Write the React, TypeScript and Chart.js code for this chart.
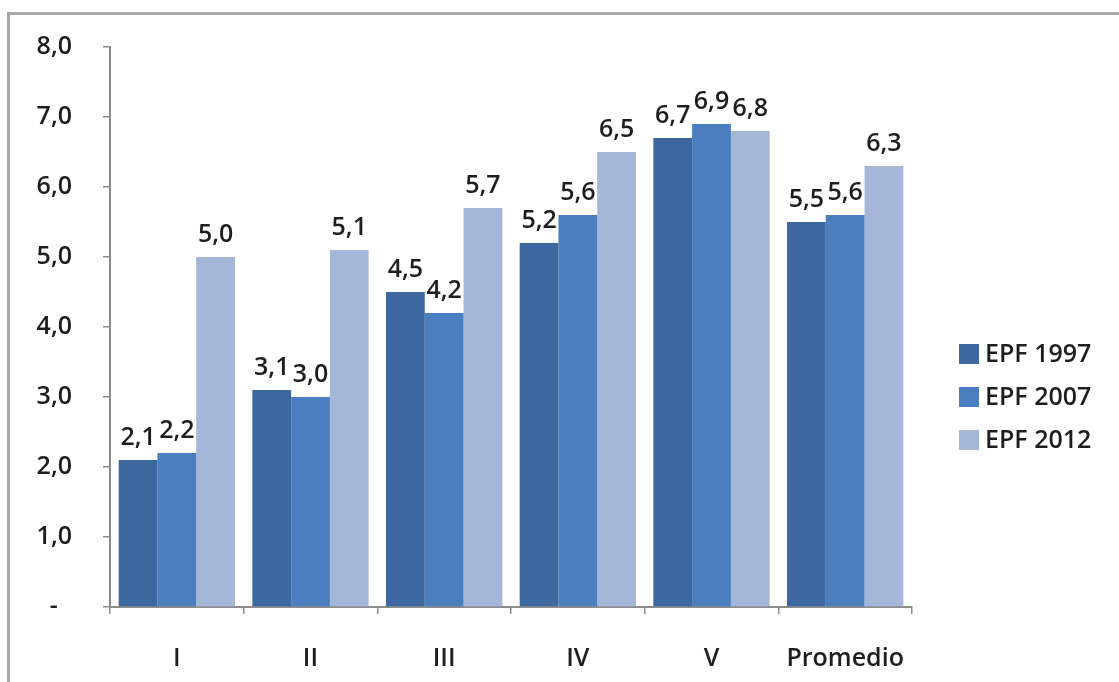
import React, { useEffect, useRef } from "react";
import { Chart, registerables } from "chart.js";

Chart.register(...registerables);

const categories = ["I", "II", "III", "IV", "V", "Promedio"];
const seriesNames = ["EPF 1997", "EPF 2007", "EPF 2012"];
const epf1997 = [2.1, 3.1, 4.5, 5.2, 6.7, 5.5];
const epf2007 = [2.2, 3.0, 4.2, 5.6, 6.9, 5.6];
const epf2012 = [5.0, 5.1, 5.7, 6.5, 6.8, 6.3];
const yTicks = [0, 1, 2, 3, 4, 5, 6, 7, 8];
const colors = ["#3c679f", "#4a7ebf", "#a5b7d8"];

const FONT = "'Open Sans', 'DejaVu Sans', sans-serif";
const TEXT = "#1e1e1e";
const fmt = (v: number) => v.toFixed(1).replace(".", ",");

const dataLabels = {
  id: "dataLabels",
  afterDatasetsDraw(chart: any) {
    const ctx = chart.ctx;
    ctx.save();
    ctx.font = `600 25px ${FONT}`;
    ctx.fillStyle = TEXT;
    ctx.textAlign = "center";
    ctx.textBaseline = "alphabetic";
    chart.data.datasets.forEach((ds: any, i: number) => {
      const meta = chart.getDatasetMeta(i);
      meta.data.forEach((el: any, j: number) => {
        ctx.fillText(fmt(ds.data[j]), el.x, el.y - 15);
      });
    });
    ctx.restore();
  },
};

const sideLegend = {
  id: "sideLegend",
  afterDraw(chart: any) {
    const ctx = chart.ctx;
    const area = chart.chartArea;
    const x = area.right + 47;
    const startY = 354;
    const gap = 43;
    ctx.save();
    ctx.font = `600 25px ${FONT}`;
    ctx.textAlign = "left";
    ctx.textBaseline = "middle";
    chart.data.datasets.forEach((ds: any, i: number) => {
      const cy = startY + i * gap;
      ctx.fillStyle = ds.backgroundColor;
      ctx.fillRect(x, cy - 10, 20, 20);
      ctx.fillStyle = TEXT;
      ctx.fillText(ds.label, x + 26, cy + 1);
    });
    ctx.restore();
  },
};

export default function App() {
  const ref = useRef<HTMLCanvasElement | null>(null);
  useEffect(() => {
    if (!ref.current) return;
    const chart = new Chart(ref.current, {
      type: "bar",
      data: {
        labels: categories,
        datasets: [epf1997, epf2007, epf2012].map((d, i) => ({
          label: seriesNames[i],
          data: d,
          backgroundColor: colors[i],
          borderWidth: 0,
          categoryPercentage: 0.87,
          barPercentage: 1.0,
        })),
      },
      options: {
        animation: false,
        responsive: false,
        maintainAspectRatio: false,
        layout: { padding: { top: 47, right: 207, bottom: 0, left: 0 } },
        plugins: {
          legend: { display: false },
          tooltip: { enabled: false },
        },
        scales: {
          x: {
            offset: true,
            border: { display: true, color: "#8c8c8c", width: 2 },
            grid: {
              offset: true,
              drawOnChartArea: false,
              drawTicks: true,
              tickLength: 7,
              color: "#8c8c8c",
              lineWidth: 1.5,
            },
            ticks: {
              color: TEXT,
              padding: 30,
              font: { family: FONT, size: 25, weight: "600" },
            },
            afterFit: (s: any) => {
              s.height = 75;
            },
          },
          y: {
            min: 0,
            max: 8,
            border: { display: true, color: "#8c8c8c", width: 2 },
            grid: {
              drawOnChartArea: false,
              drawTicks: true,
              tickLength: 7,
              color: "#8c8c8c",
              lineWidth: 1.5,
            },
            afterBuildTicks: (s: any) => {
              s.ticks = yTicks.map((v) => ({ value: v }));
            },
            ticks: {
              color: TEXT,
              padding: 31,
              font: { family: FONT, size: 25, weight: "600" },
              callback: (v: any) => (Number(v) === 0 ? "-\u2007" : fmt(Number(v))),
            },
            afterFit: (s: any) => {
              s.width = 110;
            },
          },
        },
      },
      plugins: [dataLabels, sideLegend],
    });
    return () => chart.destroy();
  }, []);

  return (
    <div style={{ position: "absolute", left: 0, top: 0, width: 1119, height: 682, background: "#fff", overflow: "hidden" }}>
      <div
        style={{
          position: "absolute",
          left: 7,
          top: 12,
          width: 1200,
          height: 800,
          borderTop: "3px solid #a8a8a8",
          borderLeft: "3px solid #a8a8a8",
        }}
      />
      <canvas ref={ref} width={1119} height={682} style={{ position: "absolute", left: 0, top: 0 }} />
    </div>
  );
}
